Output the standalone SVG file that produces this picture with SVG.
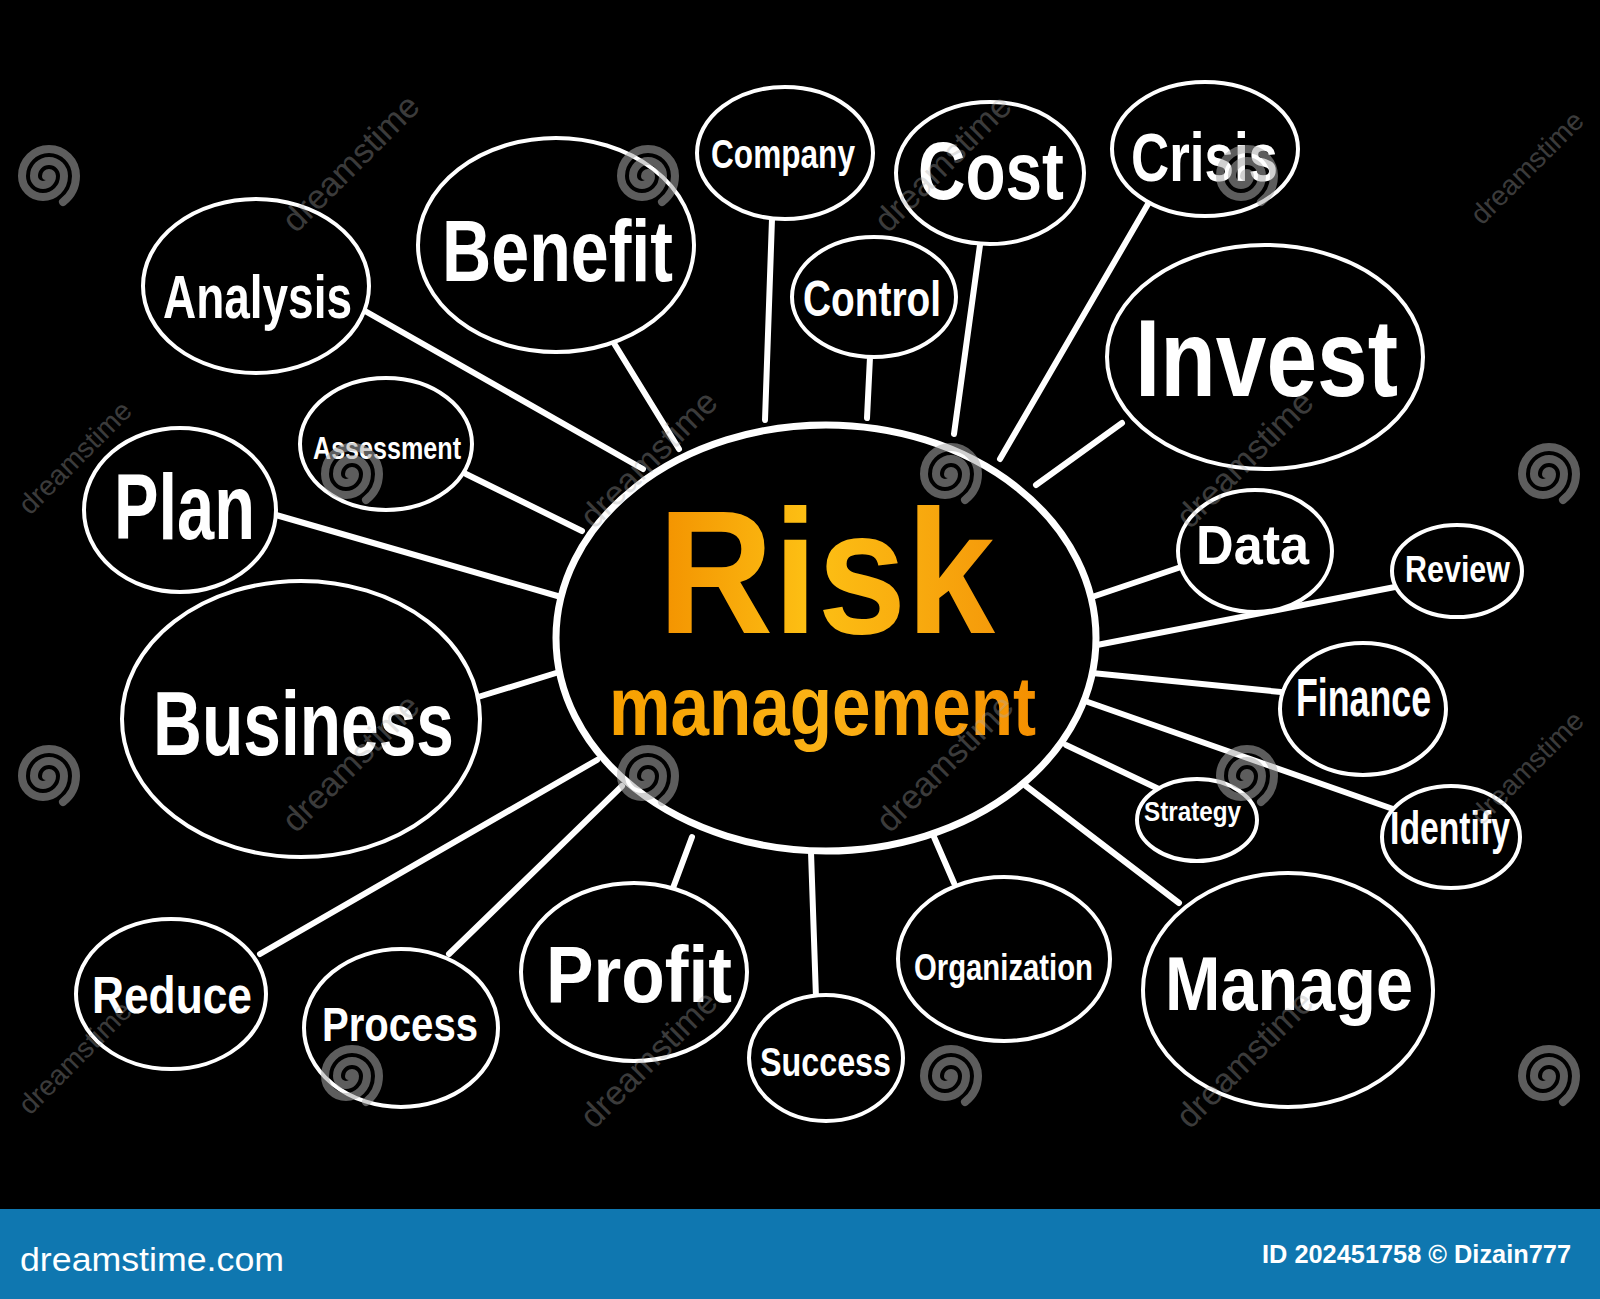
<svg xmlns="http://www.w3.org/2000/svg" xmlns:xlink="http://www.w3.org/1999/xlink" width="1600" height="1299" viewBox="0 0 1600 1299">
<style>
.n{fill:#000;stroke:#fff;stroke-width:4}
.t{fill:#fff;font-family:"Liberation Sans","DejaVu Sans",sans-serif;font-weight:bold}
.c line{stroke:#fff;stroke-width:6;stroke-linecap:round}
.wm{fill:none;stroke:#aaa;stroke-width:8;opacity:0.55;stroke-linecap:round}
.wt{fill:#aaa;opacity:0.35;font-family:"Liberation Sans",sans-serif;font-size:34px}
.ws{font-size:28px}
</style>
<defs>
<linearGradient id="og" x1="0" y1="0" x2="1" y2="0">
<stop offset="0" stop-color="#f39200"/>
<stop offset="0.45" stop-color="#fdc014"/>
<stop offset="1" stop-color="#f59a0a"/>
</linearGradient>
<linearGradient id="og2" x1="0" y1="0" x2="1" y2="0">
<stop offset="0" stop-color="#f7a000"/>
<stop offset="0.5" stop-color="#fbb216"/>
<stop offset="1" stop-color="#f59000"/>
</linearGradient>
<path id="sp" d="M -3,0 A 3 3 0 0 1 3,0 A 9 9 0 0 1 -15,0 A 15 15 0 0 1 15,0 A 21 21 0 0 1 -27,0 A 27 27 0 0 1 27,0 A 33 33 0 0 1 14,26"/>
</defs>
<rect x="0" y="0" width="1600" height="1299" fill="#000"/>

<g id="connectors" class="c">
<line x1="365" y1="311" x2="643" y2="469"/>
<line x1="612" y1="340" x2="679" y2="449"/>
<line x1="772" y1="219" x2="765" y2="420"/>
<line x1="870" y1="357" x2="867" y2="418"/>
<line x1="980" y1="245" x2="954" y2="434"/>
<line x1="1148" y1="204" x2="1000" y2="459"/>
<line x1="1122" y1="423" x2="1036" y2="485"/>
<line x1="466" y1="474" x2="582" y2="531"/>
<line x1="276" y1="515" x2="561" y2="597"/>
<line x1="478" y1="697" x2="556" y2="673"/>
<line x1="1184" y1="566" x2="1092" y2="597"/>
<line x1="1395" y1="587" x2="1097" y2="645"/>
<line x1="1281" y1="692" x2="1092" y2="673"/>
<line x1="1413" y1="816" x2="1085" y2="701"/>
<line x1="1163" y1="791" x2="1066" y2="745"/>
<line x1="1179" y1="903" x2="1026" y2="786"/>
<line x1="954" y1="883" x2="934" y2="837"/>
<line x1="816" y1="998" x2="811" y2="852"/>
<line x1="673" y1="888" x2="692" y2="837"/>
<line x1="449" y1="954" x2="622" y2="786"/>
<line x1="260" y1="954" x2="597" y2="760"/>
</g>

<g id="center">
<ellipse cx="826" cy="638" rx="270" ry="213" fill="#000" stroke="#fff" stroke-width="7"/>
<text x="658" y="633" font-family="Liberation Sans, DejaVu Sans, sans-serif" font-weight="bold" font-size="176" textLength="337" lengthAdjust="spacingAndGlyphs" fill="url(#og)">Risk</text>
<text x="609" y="735" font-family="Liberation Sans, DejaVu Sans, sans-serif" font-weight="bold" font-size="84" textLength="427" lengthAdjust="spacingAndGlyphs" fill="url(#og2)">management</text>
</g>

<g id="node-analysis"><ellipse class="n" cx="256" cy="286" rx="113" ry="87"/><text class="t" x="163" y="318" font-size="62" textLength="189" lengthAdjust="spacingAndGlyphs">Analysis</text></g>
<g id="node-benefit"><ellipse class="n" cx="556" cy="245" rx="138" ry="107"/><text class="t" x="442" y="281" font-size="88" textLength="231" lengthAdjust="spacingAndGlyphs">Benefit</text></g>
<g id="node-company"><ellipse class="n" cx="785" cy="153" rx="88" ry="66"/><text class="t" x="711" y="168" font-size="41" textLength="144" lengthAdjust="spacingAndGlyphs">Company</text></g>
<g id="node-cost"><ellipse class="n" cx="990" cy="173" rx="94" ry="71"/><text class="t" x="918" y="199" font-size="82" textLength="146" lengthAdjust="spacingAndGlyphs">Cost</text></g>
<g id="node-crisis"><ellipse class="n" cx="1205" cy="149" rx="93" ry="67"/><text class="t" x="1131" y="181" font-size="68" textLength="147" lengthAdjust="spacingAndGlyphs">Crisis</text></g>
<g id="node-control"><ellipse class="n" cx="874" cy="297" rx="82" ry="60"/><text class="t" x="803" y="316" font-size="50" textLength="138" lengthAdjust="spacingAndGlyphs">Control</text></g>
<g id="node-invest"><ellipse class="n" cx="1265" cy="357" rx="158" ry="112"/><text class="t" x="1135" y="396" font-size="110" textLength="263" lengthAdjust="spacingAndGlyphs">Invest</text></g>
<g id="node-assessment"><ellipse class="n" cx="386" cy="444" rx="86" ry="66"/><text class="t" x="313" y="459" font-size="31" textLength="148" lengthAdjust="spacingAndGlyphs">Assessment</text></g>
<g id="node-plan"><ellipse class="n" cx="180" cy="510" rx="96" ry="82"/><text class="t" x="114" y="539" font-size="92" textLength="141" lengthAdjust="spacingAndGlyphs">Plan</text></g>
<g id="node-business"><ellipse class="n" cx="301" cy="719" rx="179" ry="138"/><text class="t" x="153" y="755" font-size="90" textLength="301" lengthAdjust="spacingAndGlyphs">Business</text></g>
<g id="node-data"><ellipse class="n" cx="1255" cy="551" rx="77" ry="61"/><text class="t" x="1196" y="564" font-size="56" textLength="113" lengthAdjust="spacingAndGlyphs">Data</text></g>
<g id="node-review"><ellipse class="n" cx="1457" cy="571" rx="65" ry="46"/><text class="t" x="1405" y="582" font-size="37" textLength="105" lengthAdjust="spacingAndGlyphs">Review</text></g>
<g id="node-finance"><ellipse class="n" cx="1363" cy="709" rx="83" ry="66"/><text class="t" x="1296" y="716" font-size="53" textLength="135" lengthAdjust="spacingAndGlyphs">Finance</text></g>
<g id="node-strategy"><ellipse class="n" cx="1197" cy="820" rx="60" ry="41"/><text class="t" x="1144" y="821" font-size="27" textLength="97" lengthAdjust="spacingAndGlyphs">Strategy</text></g>
<g id="node-identify"><ellipse class="n" cx="1451" cy="837" rx="69" ry="51"/><text class="t" x="1390" y="844" font-size="47" textLength="120" lengthAdjust="spacingAndGlyphs">Identify</text></g>
<g id="node-manage"><ellipse class="n" cx="1288" cy="990" rx="145" ry="117"/><text class="t" x="1165" y="1010" font-size="76" textLength="248" lengthAdjust="spacingAndGlyphs">Manage</text></g>
<g id="node-organization"><ellipse class="n" cx="1004" cy="959" rx="106" ry="82"/><text class="t" x="914" y="980" font-size="37" textLength="179" lengthAdjust="spacingAndGlyphs">Organization</text></g>
<g id="node-success"><ellipse class="n" cx="826" cy="1058" rx="77" ry="63"/><text class="t" x="760" y="1076" font-size="41" textLength="131" lengthAdjust="spacingAndGlyphs">Success</text></g>
<g id="node-profit"><ellipse class="n" cx="634" cy="972" rx="113" ry="89"/><text class="t" x="546" y="1002" font-size="79" textLength="186" lengthAdjust="spacingAndGlyphs">Profit</text></g>
<g id="node-process"><ellipse class="n" cx="401" cy="1028" rx="97" ry="79"/><text class="t" x="322" y="1041" font-size="48" textLength="156" lengthAdjust="spacingAndGlyphs">Process</text></g>
<g id="node-reduce"><ellipse class="n" cx="171" cy="994" rx="95" ry="75"/><text class="t" x="92" y="1013" font-size="52" textLength="160" lengthAdjust="spacingAndGlyphs">Reduce</text></g>

<g id="watermark">
<use xlink:href="#sp" href="#sp" class="wm" x="49" y="176"/>
<use xlink:href="#sp" href="#sp" class="wm" x="648" y="176"/>
<use xlink:href="#sp" href="#sp" class="wm" x="1247" y="176"/>
<use xlink:href="#sp" href="#sp" class="wm" x="352" y="474"/>
<use xlink:href="#sp" href="#sp" class="wm" x="951" y="474"/>
<use xlink:href="#sp" href="#sp" class="wm" x="1549" y="474"/>
<use xlink:href="#sp" href="#sp" class="wm" x="49" y="776"/>
<use xlink:href="#sp" href="#sp" class="wm" x="648" y="776"/>
<use xlink:href="#sp" href="#sp" class="wm" x="1247" y="776"/>
<use xlink:href="#sp" href="#sp" class="wm" x="352" y="1076"/>
<use xlink:href="#sp" href="#sp" class="wm" x="951" y="1076"/>
<use xlink:href="#sp" href="#sp" class="wm" x="1549" y="1076"/>
<text class="wt" transform="translate(296,234) rotate(-45)">dreamstime</text>
<text class="wt" transform="translate(888,234) rotate(-45)">dreamstime</text>
<text class="wt ws" transform="translate(1482,226) rotate(-45)">dreamstime</text>
<text class="wt ws" transform="translate(30,516) rotate(-45)">dreamstime</text>
<text class="wt" transform="translate(594,530) rotate(-45)">dreamstime</text>
<text class="wt" transform="translate(1190,530) rotate(-45)">dreamstime</text>
<text class="wt" transform="translate(296,834) rotate(-45)">dreamstime</text>
<text class="wt" transform="translate(890,834) rotate(-45)">dreamstime</text>
<text class="wt ws" transform="translate(1482,826) rotate(-45)">dreamstime</text>
<text class="wt ws" transform="translate(30,1116) rotate(-45)">dreamstime</text>
<text class="wt" transform="translate(594,1130) rotate(-45)">dreamstime</text>
<text class="wt" transform="translate(1190,1130) rotate(-45)">dreamstime</text>
</g>

<g id="footer">
<rect x="0" y="1209" width="1600" height="90" fill="#0f77b0"/>
<text x="20" y="1271" fill="#fff" font-family="Liberation Sans, sans-serif" font-size="34" textLength="264" lengthAdjust="spacingAndGlyphs">dreamstime.com</text>
<text x="1262" y="1263" fill="#fff" font-family="Liberation Sans, sans-serif" font-weight="bold" font-size="25" textLength="309" lengthAdjust="spacingAndGlyphs">ID 202451758 © Dizain777</text>
</g>
</svg>
